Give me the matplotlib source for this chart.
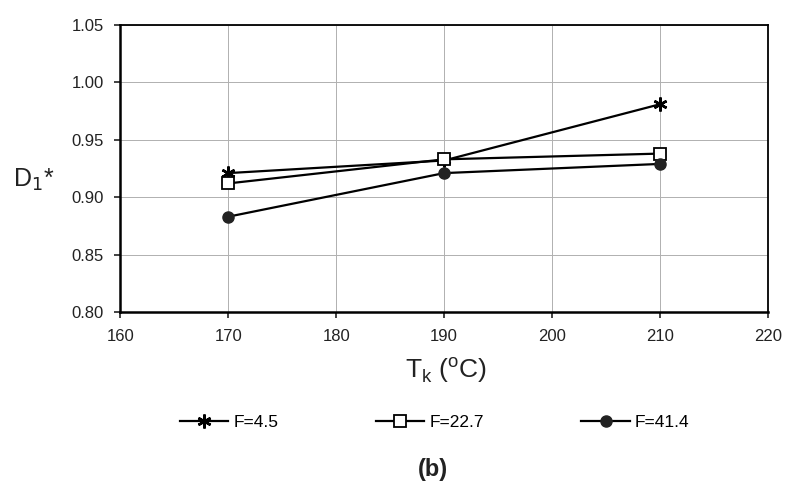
import matplotlib
matplotlib.use("Agg")
from matplotlib import pyplot as plt

plt.rcParams["font.family"] = ["Liberation Sans", "DejaVu Sans"]

temps = [170, 190, 210]
d1_f45 = [0.921, 0.932, 0.981]
d1_f227 = [0.912, 0.933, 0.938]
d1_f414 = [0.883, 0.921, 0.929]
labels = ["F=4.5", "F=22.7", "F=41.4"]

x_ticks = [160, 170, 180, 190, 200, 210, 220]
y_ticks = [0.80, 0.85, 0.90, 0.95, 1.00, 1.05]

fig = plt.figure(figsize=(7.86, 4.92), dpi=100)
ax = fig.add_axes([0.153, 0.366, 0.824, 0.583])

ax.plot(temps, d1_f45, color="black", lw=1.6, marker=(6, 2, 0), ms=10,
        mew=1.8, label=labels[0])
ax.plot(temps, d1_f227, color="black", lw=1.6, marker="s", ms=8,
        mfc="white", mec="black", mew=1.3, label=labels[1])
ax.plot(temps, d1_f414, color="black", lw=1.6, marker="o", ms=8,
        mfc="#222222", mec="#222222", label=labels[2])

ax.set_xlim(160, 220)
ax.set_ylim(0.80, 1.05)
ax.set_xticks(x_ticks)
ax.set_yticks(y_ticks)
ax.set_yticklabels([f"{v:.2f}" for v in y_ticks])
ax.grid(True, color="#b0b0b0", lw=0.7)
ax.set_axisbelow(True)

for side in ["left", "bottom"]:
    ax.spines[side].set_linewidth(1.8)
for side in ["top", "right"]:
    ax.spines[side].set_linewidth(1.3)

ax.tick_params(direction="out", length=4, width=1.2, labelsize=12,
               colors="#222222", pad=8)

fig.text(0.016, 0.635, "D$_1$*", fontsize=18, ha="left", va="center",
         color="#222222")
fig.text(0.568, 0.248, "T$_\\mathregular{k}$ ($^\\mathregular{o}$C)",
         fontsize=19, ha="center", va="center", color="#222222")

fig.legend(loc="center", bbox_to_anchor=(0.553, 0.142), ncol=3,
           frameon=False, fontsize=12.5, handlelength=2.8,
           columnspacing=5.6, handletextpad=0.3)

fig.text(0.551, 0.045, "(b)", fontsize=17, fontweight="bold",
         ha="center", va="center", color="#222222")

fig.savefig("out.png", dpi=100, facecolor="white")
